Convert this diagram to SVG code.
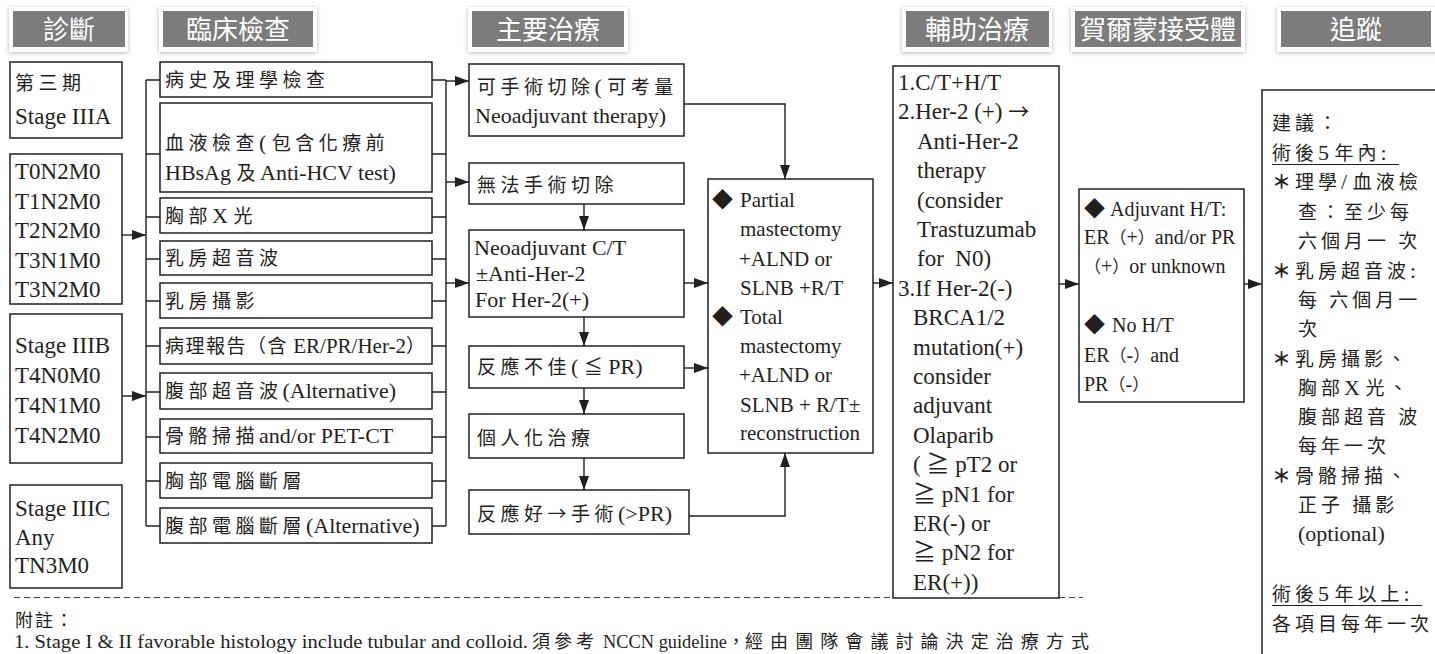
<svg xmlns="http://www.w3.org/2000/svg" width="1435" height="654" viewBox="0 0 1435 654">
<defs>
<style>
.t{font-family:"Liberation Serif","Noto Sans CJK TC",serif;fill:#231f20}
.c{font-family:"Noto Sans CJK TC","Liberation Serif",sans-serif;font-size:19px;letter-spacing:4.5px}
.c7{font-family:"Noto Sans CJK TC","Liberation Serif",sans-serif;font-size:19px;letter-spacing:4px}
.st{font-weight:bold}
.p{font-family:"Noto Sans CJK TC",sans-serif;font-size:17px}
.d{font-family:"Noto Sans CJK TC","DejaVu Sans",sans-serif;font-size:21px;fill:#231f20}
.h{font-family:"Noto Sans CJK TC",sans-serif;font-size:26px;fill:#fff;text-anchor:middle}
.box{fill:#fff;stroke:#231f20;stroke-width:1.5}
.hb{fill:#fff;filter:url(#sh)}
.hg{fill:#7c7c7c}
.ln{fill:none;stroke:#231f20;stroke-width:1.4}
.ar{fill:none;stroke:#231f20;stroke-width:1.4;marker-end:url(#ah)}
.dash{fill:none;stroke:#444;stroke-width:1.2;stroke-dasharray:6 4}
.ul{stroke:#231f20;stroke-width:1.2}
</style>
<filter id="sh" x="-10%" y="-30%" width="120%" height="160%">
<feDropShadow dx="0" dy="1" stdDeviation="2.2" flood-color="#777" flood-opacity="0.55"/>
</filter>
<marker id="ah" markerUnits="userSpaceOnUse" markerWidth="14" markerHeight="10" refX="14" refY="5" orient="auto" viewBox="0 0 14 10">
<path d="M0,0 L14,5 L0,10 Z" fill="#231f20"/>
</marker>
</defs>
<rect width="1435" height="654" fill="#fff"/>

<g id="headers">
<g id="h-diag"><rect class="hb" x="9" y="7" width="119" height="45"/><rect class="hg" x="13" y="11" width="112" height="36"/><text class="h" x="69" y="39">診斷</text></g>
<g id="h-exam"><rect class="hb" x="159" y="7" width="158" height="45"/><rect class="hg" x="163" y="11" width="150" height="36"/><text class="h" x="238" y="39">臨床檢查</text></g>
<g id="h-main"><rect class="hb" x="468" y="7" width="160" height="45"/><rect class="hg" x="472" y="11" width="152" height="36"/><text class="h" x="548" y="39">主要治療</text></g>
<g id="h-adj"><rect class="hb" x="902" y="7" width="150" height="45"/><rect class="hg" x="906" y="11" width="143" height="36"/><text class="h" x="977" y="39">輔助治療</text></g>
<g id="h-hr"><rect class="hb" x="1071" y="7" width="174" height="45"/><rect class="hg" x="1075" y="11" width="166" height="36"/><text class="h" x="1158" y="39">賀爾蒙接受體</text></g>
<g id="h-fu"><rect class="hb" x="1277" y="7" width="162" height="45"/><rect class="hg" x="1281" y="11" width="150" height="36"/><text class="h" x="1356" y="39">追蹤</text></g>
</g>

<g id="connectors">
<path class="ar" d="M122,235 H146"/>
<path class="ar" d="M122,396 H146"/>
<path class="ln" d="M146,80 V526 M146,80 H160 M146,154 H160 M146,217 H160 M146,259 H160 M146,301 H160 M146,346 H160 M146,392 H160 M146,437 H160 M146,481 H160 M146,526 H160"/>
<path class="ln" d="M446,80 V526 M432,80 H446 M432,154 H446 M432,217 H446 M432,259 H446 M432,301 H446 M432,346 H446 M432,392 H446 M432,437 H446 M432,481 H446 M432,526 H446"/>
<path class="ar" d="M446,81 H469"/>
<path class="ar" d="M446,182 H469"/>
<path class="ar" d="M446,283 H469"/>
<path class="ar" d="M584,204 V230"/>
<path class="ar" d="M584,317 V346"/>
<path class="ar" d="M584,388 V414"/>
<path class="ar" d="M584,458 V490"/>
<path class="ar" d="M684,104 H785 V179"/>
<path class="ar" d="M689,516 H785 V453"/>
<path class="ar" d="M684,283 H708"/>
<path class="ar" d="M684,368 H708"/>
<path class="ar" d="M873,283 H893"/>
<path class="ar" d="M1059,284 H1079"/>
<path class="ar" d="M1244,284 H1262"/>
<path class="dash" d="M14,597.5 H893 M1059,597.5 H1083"/>
</g>

<g id="n-stage3a"><rect class="box" x="10" y="62" width="112" height="76"/>
<text class="t" x="15" y="90"><tspan class="c">第三期</tspan></text>
<text class="t" x="15" y="124" font-size="23">Stage IIIA</text></g>

<g id="n-tn"><rect class="box" x="10" y="154" width="112" height="150"/>
<text class="t" font-size="23"><tspan x="15" y="179">T0N2M0</tspan><tspan x="15" y="208.5">T1N2M0</tspan><tspan x="15" y="238">T2N2M0</tspan><tspan x="15" y="267.5">T3N1M0</tspan><tspan x="15" y="297">T3N2M0</tspan></text></g>

<g id="n-stage3b"><rect class="box" x="10" y="314" width="112" height="149"/>
<text class="t" font-size="23"><tspan x="15" y="353">Stage IIIB</tspan><tspan x="15" y="383">T4N0M0</tspan><tspan x="15" y="413">T4N1M0</tspan><tspan x="15" y="443">T4N2M0</tspan></text></g>

<g id="n-stage3c"><rect class="box" x="10" y="485" width="112" height="103"/>
<text class="t" font-size="23"><tspan x="15" y="516">Stage IIIC</tspan><tspan x="15" y="545">Any</tspan><tspan x="15" y="573">TN3M0</tspan></text></g>

<g id="n-exam1"><rect class="box" x="160" y="62" width="272" height="35"/><text class="t" x="165" y="87"><tspan class="c">病史及理學檢查</tspan></text></g>
<g id="n-exam2"><rect class="box" x="160" y="103" width="272" height="89"/><text class="t" x="165" y="150" font-size="22"><tspan class="c">血液檢查</tspan>( <tspan class="c">包含化療前</tspan></text><text class="t" x="165" y="180" font-size="22">HBsAg <tspan class="c">及</tspan>Anti-HCV test)</text></g>
<g id="n-exam3"><rect class="box" x="160" y="198" width="272" height="35"/><text class="t" x="165" y="223" font-size="22"><tspan class="c">胸部</tspan>X <tspan class="c">光</tspan></text></g>
<g id="n-exam4"><rect class="box" x="160" y="241" width="272" height="34"/><text class="t" x="165" y="265"><tspan class="c">乳房超音波</tspan></text></g>
<g id="n-exam5"><rect class="box" x="160" y="283" width="272" height="35"/><text class="t" x="165" y="308"><tspan class="c">乳房攝影</tspan></text></g>
<g id="n-exam6"><rect class="box" x="160" y="328" width="272" height="36"/><text class="t" x="165" y="353" font-size="21"><tspan class="c" style="letter-spacing:1.5px">病理報告（含</tspan> ER/PR/Her-2<tspan class="c">）</tspan></text></g>
<g id="n-exam7"><rect class="box" x="160" y="373" width="272" height="36"/><text class="t" x="165" y="398" font-size="22"><tspan class="c">腹部超音波</tspan>(Alternative)</text></g>
<g id="n-exam8"><rect class="box" x="160" y="419" width="272" height="34"/><text class="t" x="165" y="443" font-size="22"><tspan class="c">骨骼掃描</tspan>and/or PET-CT</text></g>
<g id="n-exam9"><rect class="box" x="160" y="463" width="272" height="35"/><text class="t" x="165" y="488"><tspan class="c">胸部電腦斷層</tspan></text></g>
<g id="n-exam10"><rect class="box" x="160" y="508" width="272" height="35"/><text class="t" x="165" y="533" font-size="22"><tspan class="c">腹部電腦斷層</tspan>(Alternative)</text></g>

<g id="n-operable"><rect class="box" x="469" y="64" width="215" height="72"/>
<text class="t" x="477" y="94" font-size="22"><tspan class="c">可手術切除</tspan>( <tspan class="c">可考量</tspan></text>
<text class="t" x="475" y="123" font-size="22">Neoadjuvant therapy)</text></g>
<g id="n-inoperable"><rect class="box" x="469" y="163" width="215" height="41"/>
<text class="t" x="477" y="192"><tspan class="c">無法手術切除</tspan></text></g>
<g id="n-neoadj"><rect class="box" x="469" y="230" width="215" height="87"/>
<text class="t" font-size="22"><tspan x="474" y="255">Neoadjuvant C/T</tspan><tspan x="476" y="281">±Anti-Her-2</tspan><tspan x="475" y="307">For Her-2(+)</tspan></text></g>
<g id="n-poor"><rect class="box" x="469" y="346" width="215" height="42"/>
<text class="t" x="477" y="374" font-size="22"><tspan class="c">反應不佳</tspan>( <tspan class="c" style="letter-spacing:0">≦</tspan> PR)</text></g>
<g id="n-personal"><rect class="box" x="469" y="414" width="215" height="44"/>
<text class="t" x="477" y="445"><tspan class="c">個人化治療</tspan></text></g>
<g id="n-good"><rect class="box" x="469" y="490" width="220" height="44"/>
<text class="t" x="477" y="521" font-size="22"><tspan class="c">反應好→手術</tspan>(&gt;PR)</text></g>

<g id="n-surgery"><rect class="box" x="708" y="179" width="165" height="274"/>
<text class="d" x="712" y="207">◆</text>
<text class="d" x="712" y="324">◆</text>
<text class="t" font-size="21"><tspan x="740" y="207">Partial</tspan><tspan x="740" y="236">mastectomy</tspan><tspan x="739" y="266">+ALND or</tspan><tspan x="740" y="295">SLNB +R/T</tspan><tspan x="740" y="324">Total</tspan><tspan x="740" y="353">mastectomy</tspan><tspan x="739" y="382">+ALND or</tspan><tspan x="740" y="412">SLNB + R/T±</tspan><tspan x="740" y="440">reconstruction</tspan></text></g>

<g id="n-adjuvant"><rect class="box" x="893" y="66" width="166" height="532"/>
<text class="t" font-size="23"><tspan x="898" y="90">1.C/T+H/T</tspan><tspan x="898" y="119.4">2.Her-2 (+) <tspan class="c" style="letter-spacing:0;font-size:21px">→</tspan></tspan><tspan x="917" y="148.8">Anti-Her-2</tspan><tspan x="917" y="178.2">therapy</tspan><tspan x="917" y="207.6">(consider</tspan><tspan x="917" y="237">Trastuzumab</tspan><tspan x="917" y="266.4" style="white-space:pre">for  N0)</tspan><tspan x="898" y="295.8">3.If Her-2(-)</tspan><tspan x="913" y="325.2">BRCA1/2</tspan><tspan x="913" y="354.6">mutation(+)</tspan><tspan x="913" y="384">consider</tspan><tspan x="913" y="413.4">adjuvant</tspan><tspan x="913" y="442.8">Olaparib</tspan><tspan x="913" y="472.2">( ≧ pT2 or</tspan><tspan x="913" y="501.6">≧ pN1 for</tspan><tspan x="913" y="531">ER(-) or</tspan><tspan x="913" y="560.4">≧ pN2 for</tspan><tspan x="913" y="589.8">ER(+))</tspan></text></g>

<g id="n-hormone"><rect class="box" x="1079" y="189" width="165" height="213"/>
<text class="d" x="1084" y="216">◆</text>
<text class="d" x="1084" y="332">◆</text>
<text class="t" font-size="20"><tspan x="1110" y="216">Adjuvant H/T:</tspan><tspan x="1084" y="244">ER<tspan class="p">（</tspan>+<tspan class="p">）</tspan>and/or PR</tspan><tspan x="1084" y="273"><tspan class="p">（</tspan>+<tspan class="p">）</tspan>or unknown</tspan><tspan x="1112" y="332">No H/T</tspan><tspan x="1084" y="362">ER<tspan class="p">（</tspan>-<tspan class="p">）</tspan>and</tspan><tspan x="1084" y="391">PR<tspan class="p">（</tspan>-<tspan class="p">）</tspan></tspan></text></g>

<g id="n-followup"><rect class="box" x="1262" y="90" width="180" height="580"/>
<text class="t" font-size="22">
<tspan x="1272" y="130"><tspan class="c7">建議：</tspan></tspan>
<tspan x="1272" y="160"><tspan class="c7">術後</tspan>5 <tspan class="c7">年內</tspan>:</tspan>
<tspan x="1272" y="189"><tspan class="c7 st">＊</tspan><tspan class="c7">理學</tspan>/ <tspan class="c7">血液檢</tspan></tspan>
<tspan x="1298" y="219"><tspan class="c7">查：至少每</tspan></tspan>
<tspan x="1298" y="248"><tspan class="c7">六個月一 次</tspan></tspan>
<tspan x="1272" y="278"><tspan class="c7 st">＊</tspan><tspan class="c7">乳房超音波</tspan>:</tspan>
<tspan x="1298" y="307"><tspan class="c7">每 六個月一</tspan></tspan>
<tspan x="1298" y="336"><tspan class="c7">次</tspan></tspan>
<tspan x="1272" y="366"><tspan class="c7 st">＊</tspan><tspan class="c7">乳房攝影、</tspan></tspan>
<tspan x="1298" y="395"><tspan class="c7">胸部</tspan>X <tspan class="c7">光、</tspan></tspan>
<tspan x="1298" y="424"><tspan class="c7">腹部超音 波</tspan></tspan>
<tspan x="1298" y="453"><tspan class="c7">每年一次</tspan></tspan>
<tspan x="1272" y="483"><tspan class="c7 st">＊</tspan><tspan class="c7">骨骼掃描、</tspan></tspan>
<tspan x="1298" y="512"><tspan class="c7">正子 攝影</tspan></tspan>
<tspan x="1298" y="541">(optional)</tspan>
<tspan x="1272" y="601"><tspan class="c7">術後</tspan>5 <tspan class="c7">年以上</tspan>:</tspan>
<tspan x="1272" y="631"><tspan class="c7">各項目每年一次</tspan></tspan>
</text>
<line class="ul" x1="1272" y1="164.5" x2="1399" y2="164.5"/>
<line class="ul" x1="1272" y1="605.5" x2="1422" y2="605.5"/>
</g>

<g id="footnote">
<text class="t" x="15" y="627"><tspan class="c" style="font-size:18px;letter-spacing:2px">附註：</tspan></text>
<text class="t" x="14" y="648" font-size="18" textLength="514" lengthAdjust="spacingAndGlyphs">1.  Stage I &amp; II favorable histology include tubular and colloid.</text>
<text class="t" x="532" y="648"><tspan class="c" style="font-size:18px;letter-spacing:4px">須參考</tspan></text>
<text class="t" x="603" y="648" font-size="18" textLength="124" lengthAdjust="spacingAndGlyphs">NCCN guideline</text>
<text class="t" x="727" y="648"><tspan class="c" style="font-size:18px;letter-spacing:0">，</tspan></text>
<text class="t" x="745" y="648" textLength="344" lengthAdjust="spacing"><tspan class="c" style="font-size:18px;letter-spacing:0">經由團隊會議討論決定治療方式</tspan></text>
</g>
</svg>
